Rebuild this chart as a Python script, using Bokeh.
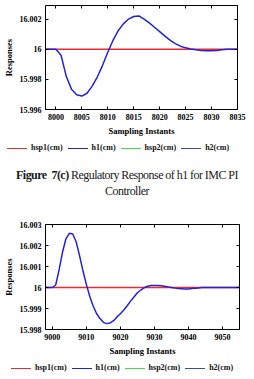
from bokeh.plotting import figure
from bokeh.models import (Range1d, LinearAxis, FixedTicker, CustomJSTickFormatter, Div)
from bokeh.layouts import column
from bokeh.embed import file_html
from bokeh.resources import INLINE

# --- Regulatory response around sample 8000 (level h1, cm) ---
t_a = list(range(7998, 8036))
h1_a = [16.0, 16.0, 16.0, 15.9996, 15.9982, 15.99735, 15.99698, 15.99689, 15.99708,
        15.99755, 15.99817, 15.99893, 15.99980, 16.00058, 16.00122, 16.00168,
        16.00200, 16.00217, 16.00221, 16.00200, 16.00175, 16.00146, 16.00117,
        16.00087, 16.00060, 16.00037, 16.00020, 16.00009, 16.00002, 15.99997,
        15.99992, 15.99990, 15.99990, 15.99992, 15.99996, 15.99999, 16.0, 16.0]
hsp1_a = [16.0] * len(t_a)
xticks_a = [8000, 8005, 8010, 8015, 8020, 8025, 8030, 8035]
yticks_a = [15.996, 15.998, 16.0, 16.002]

# --- Regulatory response around sample 9000 ---
t_b = list(range(8998, 9056))
h1_b = [16.0, 16.0, 16.0, 16.00012, 16.00085, 16.00168, 16.00232, 16.00258, 16.00255,
        16.00218, 16.00152, 16.00080, 16.00015, 15.99958, 15.99912, 15.99876,
        15.99852, 15.99834, 15.99828, 15.99831, 15.99842, 15.99860, 15.99875,
        15.99893, 15.99913, 15.99935, 15.99955, 15.99975, 15.99988, 15.99999,
        16.00006, 16.00009, 16.00010, 16.00010, 16.00008, 16.00006, 16.00003,
        16.0, 15.99997, 15.99995, 15.99994, 15.99993, 15.99993, 15.99995,
        15.99997, 15.99998, 16.0, 16.0, 16.0, 16.0, 16.0, 16.0, 16.0, 16.0,
        16.0, 16.0, 16.0, 16.0]
hsp1_b = [16.0] * len(t_b)
xticks_b = [9000, 9010, 9020, 9030, 9040, 9050]
yticks_b = [15.998, 15.999, 16.0, 16.001, 16.002, 16.003]

series_names = ["hsp1(cm)", "h1(cm)", "hsp2(cm)", "h2(cm)"]
series_colors = ["#ee2a2e", "#2222dd", "#3fe03f", "#3c4c9e"]

SERIF = "Liberation Serif"


def style_axis(ax, ticks, show_labels):
    ax.ticker = FixedTicker(ticks=ticks)
    ax.axis_line_color = None
    ax.major_tick_in = 3
    ax.major_tick_out = 0
    ax.minor_tick_in = 0
    ax.minor_tick_out = 0
    ax.major_tick_line_color = "black"
    ax.major_tick_line_width = 1
    if show_labels:
        ax.formatter = CustomJSTickFormatter(code="return String(Number(tick.toFixed(3)));")
        ax.major_label_text_font = SERIF
        ax.major_label_text_font_style = "bold"
        ax.major_label_text_font_size = "8px"
        ax.major_label_text_color = "black"
        ax.major_label_standoff = 4
        ax.axis_label_text_font = SERIF
        ax.axis_label_text_font_style = "bold"
        ax.axis_label_text_font_size = "8.5px"
        ax.axis_label_text_color = "black"
        ax.axis_label_standoff = 3
    else:
        # tick marks only on the top/right edges of the box
        ax.formatter = CustomJSTickFormatter(code="return '';")
        ax.major_label_text_font_size = "1px"
        ax.major_label_standoff = 0


def make_panel(t, h1, hsp1, xr, yr, xticks, yticks, fw, fh, left, right, top, bottom):
    p = figure(frame_width=fw, frame_height=fh, x_range=Range1d(*xr), y_range=Range1d(*yr),
               output_backend="svg", toolbar_location=None,
               min_border_left=left, min_border_right=right,
               min_border_top=top, min_border_bottom=bottom)
    p.grid.visible = False
    p.outline_line_color = "black"
    p.outline_line_width = 1
    p.background_fill_color = "white"
    p.border_fill_color = "white"

    p.xaxis.axis_label = "Sampling Instants"
    p.yaxis.axis_label = "Responses"
    style_axis(p.xaxis[0], xticks, True)
    style_axis(p.yaxis[0], yticks, True)

    top_ax = LinearAxis()
    style_axis(top_ax, xticks, False)
    p.add_layout(top_ax, "above")
    right_ax = LinearAxis()
    style_axis(right_ax, yticks, False)
    p.add_layout(right_ax, "right")

    p.line(t, hsp1, line_color=series_colors[0], line_width=1.6)
    p.line(t, h1, line_color=series_colors[1], line_width=1.5)
    return p


def legend_row(height, pad_left, pad_top):
    """Horizontal key built from the series names and colours."""
    parts = []
    for name, color in zip(series_names, series_colors):
        parts.append(
            "<span style=\"display:inline-block;width:20px;height:0;"
            f"border-top:1.2px solid {color};vertical-align:middle;margin-right:4px;\"></span>"
            f"<span style=\"margin-right:5px;\">{name}</span>")
    html = ("<div style=\"font-family:'Liberation Serif';font-weight:bold;font-size:8px;"
            f"line-height:14px;white-space:nowrap;color:#111;padding-left:{pad_left}px;"
            f"padding-top:{pad_top}px;\">" + "".join(parts) + "</div>")
    return Div(text=html, width=254, height=height, margin=(0, 0, 0, 0))


p1 = make_panel(t_a, h1_a, hsp1_a, (7998, 8035), (15.996, 16.0029), xticks_a, yticks_a,
                fw=192, fh=104, left=39, right=23, top=5, bottom=29)
leg1 = legend_row(14, 7, 0)

caption = Div(
    text=("<div style=\"text-align:center;font-family:'Liberation Serif';"
          "font-size:12px;letter-spacing:-0.55px;line-height:16px;color:#1a1a1a;"
          "width:254px;\">"
          "<b>Figure&nbsp; 7(c)</b> "
          "Regulatory Response of h1 for IMC PI<br>Controller</div>"),
    width=254, height=43, margin=(15, 0, 0, 0))

p2 = make_panel(t_b, h1_b, hsp1_b, (8998, 9055), (15.998, 16.003), xticks_b, yticks_b,
                fw=194, fh=105, left=43, right=17, top=14, bottom=29)
leg2 = legend_row(20, 11, 3)

layout = column(p1, leg1, caption, p2, leg2, spacing=0)
open("out.html", "w").write(file_html(layout, INLINE))
